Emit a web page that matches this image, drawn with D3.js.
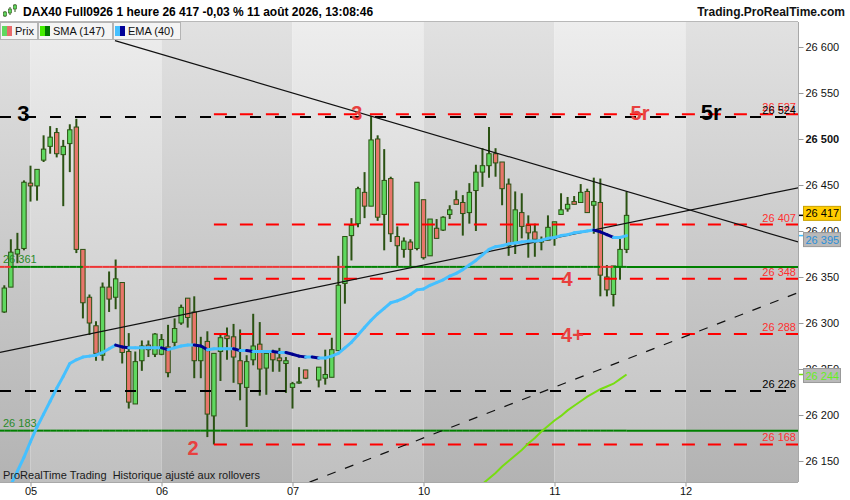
<!DOCTYPE html>
<html>
<head>
<meta charset="utf-8">
<script src="https://cdn.jsdelivr.net/npm/d3@7"></script>
<style>
  body { margin: 0; background: #fff; }
  svg { display: block; font-family: "Liberation Sans", Arial, sans-serif; }
</style>
</head>
<body>
<div id="chart"></div>
<script>
// Hourly candles, one per slot on the x axis (slot 47 has no candle)
const opens  = [26312,26339,26375,26381,26452,26449,26477,26492,26507,26483,
                26495,26513,26380,26328,26297,26265,26339,26328,26344,26269,
                26212,26259,26276,26266,26266,26274,26279,26300,26327,26312,
                26259,26280,26199,26269,26286,26285,26259,26230,26260,26277,
                26251,26269,26262,26256,26230,26235,26249,null,26238,26240,
                26241,26270,26343,26395,26408,26442,26427,26500,26418,26457,
                26394,26380,26388,26381,26434,26373,26403,26401,26418,26434,
                26431,26420,26444,26464,26471,26484,26475,26451,26387,26420,
                26406,26399,26388,26390,26392,26418,26424,26432,26431,26443,
                26428,26431,26350,26331,26361,26380];
const highs  = [26341,26391,26398,26455,26471,26467,26504,26514,26512,26499,
                26516,26522,26380,26331,26302,26344,26356,26369,26344,26289,
                26269,26281,26281,26289,26288,26298,26305,26320,26327,26329,
                26285,26291,26267,26289,26295,26299,26293,26265,26310,26301,
                26270,26271,26273,26263,26236,26252,26249,null,26252,26271,
                26284,26373,26394,26414,26448,26464,26525,26504,26489,26459,
                26405,26393,26391,26453,26434,26413,26413,26416,26428,26444,
                26439,26452,26472,26490,26513,26490,26475,26457,26443,26441,
                26417,26408,26394,26417,26410,26441,26437,26438,26451,26446,
                26458,26457,26363,26362,26392,26443];
const lows   = [26311,26339,26365,26379,26432,26433,26475,26484,26480,26427,
                26464,26376,26305,26287,26259,26259,26312,26315,26256,26207,
                26212,26248,26263,26263,26265,26241,26274,26298,26295,26240,
                26240,26176,26168,26237,26260,26235,26216,26187,26254,26221,
                26222,26247,26247,26224,26207,26234,26239,null,26230,26233,
                26241,26270,26321,26368,26404,26414,26427,26411,26379,26388,
                26362,26371,26361,26379,26369,26373,26392,26400,26413,26429,
                26395,26408,26400,26448,26458,26459,26428,26373,26375,26392,
                26371,26372,26379,26390,26384,26418,26421,26429,26431,26420,
                26397,26329,26329,26318,26347,26376];
const closes = [26338,26377,26380,26453,26449,26467,26489,26502,26484,26492,
                26510,26380,26322,26300,26267,26339,26326,26348,26268,26214,
                26258,26275,26271,26288,26282,26246,26294,26317,26306,26259,
                26275,26201,26267,26284,26283,26263,26234,26258,26275,26250,
                26267,26260,26259,26259,26234,26236,26240,null,26252,26244,
                26271,26341,26394,26406,26446,26427,26499,26415,26455,26397,
                26384,26389,26380,26453,26371,26413,26392,26415,26423,26429,
                26419,26442,26464,26471,26484,26474,26446,26384,26423,26405,
                26398,26391,26390,26404,26410,26423,26429,26429,26442,26420,
                26432,26352,26336,26362,26380,26417];

// EMA (40) and SMA (147) as drawn on the chart
const ema40 = [26109,26124,26139,26154,26171,26187,26201,26215,26229,26242,
               26256,26260,26263,26264,26265,26268,26272,26276,26274,26273,
               26273,26273,26273,26273,26273,26271,26273,26275,26276,26276,
               26275,26271,26272,26272,26272,26272,26270,26270,26269,26269,
               26269,26269,26268,26268,26266,26264,26263,26263,26262,26262,
               26264,26267,26273,26279,26287,26295,26303,26310,26316,26322,
               26324,26327,26331,26336,26337,26341,26344,26347,26351,26354,
               26358,26363,26368,26374,26380,26383,26384,26386,26387,26388,
               26389,26389,26390,26392,26393,26395,26396,26398,26399,26400,
               26401,26399,26396,26393,26393,26395];
const sma147 = Array(73).fill(null).concat(
              [26125,26131,26137,26144,26150,26156,26162,26169,26175,26182,
               26188,26194,26199,26205,26210,26215,26220,26224,26228,26231,
               26234,26239,26244]);

// Axes
const dayTicks = [4, 24, 44, 64, 84, 104];
const dayLabels = ["05", "06", "07", "10", "11", "12"];
const priceTicks = [26150, 26200, 26250, 26300, 26350, 26400, 26450, 26500, 26550, 26600];

// Horizontal levels
const redDashLevels = [26527, 26407, 26348, 26288, 26168];
const blackDashLevels = [26524, 26226];
const supportLevels = [26361, 26183];
const redDashStartSlot = 32;

// Trend lines: [slot, price] -> [slot, price]
const trendSolid = [[[16.9, 26607], [121.2, 26388]], [[-0.66, 26268], [121.2, 26447]]];
const trendDashed = [[[46.6, 26127], [121.2, 26333]]];

// Wave count annotations: text, slot, price
const waveBlack = [["3", 2.93, 26519.6], ["5r", 107.9, 26520.6]];
const waveRed = [["3", 53.8, 26520.6], ["5r", 97.05, 26520.6], ["2", 28.8, 26156.5],
                 ["4", 85.9, 26340.2], ["4+", 86.75, 26279.3]];

const lastPrice = 26417;
const lastEma = 26395;
const lastSma = 26244;

// ---------------------------------------------------------------
const width = 850, height = 500;
const plotL = 0, plotR = 798, plotT = 22, plotB = 482;

const fr = d3.formatLocale({ decimal: ",", thousands: " ", grouping: [3], currency: ["", ""] });
const fmt = fr.format(",d");

const x = d3.scaleLinear().domain([0, 95]).range([4.3, 626.55]);
const y = d3.scaleLinear().domain([26150, 26600]).range([461, 47]);
const slotMax = x.invert(plotR), slotMin = x.invert(plotL);

const svg = d3.select("#chart").append("svg")
    .attr("width", width).attr("height", height);

const defs = svg.append("defs");
function grad(id, top, bottom) {
    const g = defs.append("linearGradient").attr("id", id)
        .attr("gradientUnits", "userSpaceOnUse")
        .attr("x1", 0).attr("x2", 0).attr("y1", plotT).attr("y2", plotB);
    g.append("stop").attr("offset", 0).attr("stop-color", top);
    g.append("stop").attr("offset", 1).attr("stop-color", bottom);
}
grad("bandDark", "#e1e1e1", "#b3b3b3");
grad("bandLight", "#ededed", "#c0c0c0");
defs.append("clipPath").attr("id", "plotClip")
    .append("rect").attr("x", plotL).attr("y", plotT)
    .attr("width", plotR - plotL).attr("height", plotB - plotT);

svg.append("rect").attr("width", width).attr("height", height).attr("fill", "#fff");

// Day bands (alternate shading)
const edges = [slotMin, ...dayTicks, slotMax];
svg.append("g").selectAll("rect")
    .data(d3.pairs(edges))
    .join("rect")
    .attr("x", d => x(d[0]))
    .attr("y", plotT)
    .attr("width", d => x(d[1]) - x(d[0]))
    .attr("height", plotB - plotT)
    .attr("fill", (d, i) => i % 2 === 0 ? "url(#bandDark)" : "url(#bandLight)");

const plot = svg.append("g").attr("clip-path", "url(#plotClip)");

// Candles
const candles = opens.map((o, i) => ({ i, o, h: highs[i], l: lows[i], c: closes[i] }))
    .filter(d => d.o != null);

plot.append("g").selectAll("line")
    .data(candles)
    .join("line")
    .attr("x1", d => x(d.i)).attr("x2", d => x(d.i))
    .attr("y1", d => y(d.h)).attr("y2", d => y(d.l))
    .attr("stroke", "#2b5213")
    .attr("stroke-width", 2);

plot.append("g").selectAll("rect")
    .data(candles)
    .join("rect")
    .attr("x", d => x(d.i) - 2.2)
    .attr("y", d => y(Math.max(d.o, d.c)))
    .attr("width", 4.4)
    .attr("height", d => Math.max(1.2, Math.abs(y(d.o) - y(d.c))))
    .attr("fill", d => d.c >= d.o ? "#5fd85f" : "#e8766b")
    .attr("stroke", "#2b5213")
    .attr("stroke-width", 1);

// Support lines: green while closes hold above, red while below
supportLevels.forEach(level => {
    const pts = [[slotMin, closes[0]]];
    let last = closes[0];
    closes.forEach((c, i) => { if (c != null) last = c; pts.push([i, last]); });
    pts.push([slotMax, last]);
    plot.append("g").selectAll("line")
        .data(d3.pairs(pts))
        .join("line")
        .attr("x1", d => x(d[0][0])).attr("x2", d => x(d[1][0]))
        .attr("y1", y(level)).attr("y2", y(level))
        .attr("stroke", d => d[0][1] >= level ? "#008000" : "#ee3535")
        .attr("stroke-width", 2);
});

// Dashed levels
plot.append("g").selectAll("line")
    .data(blackDashLevels)
    .join("line")
    .attr("x1", plotL).attr("x2", plotR)
    .attr("y1", d => y(d)).attr("y2", d => y(d))
    .attr("stroke", "#000")
    .attr("stroke-width", 2)
    .attr("stroke-dasharray", "11,14");

plot.append("g").selectAll("line")
    .data(redDashLevels)
    .join("line")
    .attr("x1", x(redDashStartSlot)).attr("x2", plotR)
    .attr("y1", d => y(d)).attr("y2", d => y(d))
    .attr("stroke", "#ff0000")
    .attr("stroke-width", 2)
    .attr("stroke-dasharray", "13,13");

// Trend lines
const trendLine = d3.line().x(d => x(d[0])).y(d => y(d[1]));
plot.append("g").selectAll("path")
    .data(trendSolid)
    .join("path")
    .attr("d", trendLine)
    .attr("fill", "none").attr("stroke", "#111").attr("stroke-width", 1.2);
plot.append("g").selectAll("path")
    .data(trendDashed)
    .join("path")
    .attr("d", trendLine)
    .attr("fill", "none").attr("stroke", "#111").attr("stroke-width", 1.2)
    .attr("stroke-dasharray", "9,10");

// SMA 147
plot.append("path")
    .datum(sma147.map((v, i) => [i, v]).filter(d => d[1] != null))
    .attr("d", trendLine)
    .attr("fill", "none").attr("stroke", "#77dd11").attr("stroke-width", 2);

// EMA 40: light blue rising, dark blue falling
plot.append("g").selectAll("line")
    .data(d3.pairs(ema40.map((v, i) => [i, v])))
    .join("line")
    .attr("x1", d => x(d[0][0])).attr("x2", d => x(d[1][0]))
    .attr("y1", d => y(d[0][1])).attr("y2", d => y(d[1][1]))
    .attr("stroke", d => d[1][1] < d[0][1] ? "#00008f" : "#45c0ff")
    .attr("stroke-width", 3)
    .attr("stroke-linecap", "round");

// Wave labels
plot.append("g").selectAll("text")
    .data(waveBlack)
    .join("text")
    .attr("x", d => x(d[1])).attr("y", d => y(d[2]))
    .attr("text-anchor", "middle")
    .attr("font-size", "22px").attr("font-weight", "bold")
    .attr("fill", "#000")
    .text(d => d[0]);
plot.append("g").selectAll("text")
    .data(waveRed)
    .join("text")
    .attr("x", d => x(d[1])).attr("y", d => y(d[2]))
    .attr("text-anchor", "middle")
    .attr("font-size", "20px").attr("font-weight", "bold")
    .attr("fill", "#e8403f")
    .text(d => d[0]);

// Level value labels inside the plot
const rightLabels = redDashLevels.map(v => [v, "#ff3030"]).concat(blackDashLevels.map(v => [v, "#000"]));
plot.append("g").selectAll("text")
    .data(rightLabels)
    .join("text")
    .attr("x", plotR - 2).attr("y", d => y(d[0]) - 3)
    .attr("text-anchor", "end")
    .attr("font-size", "11px")
    .attr("fill", d => d[1])
    .text(d => fmt(d[0]));
plot.append("g").selectAll("text")
    .data(supportLevels)
    .join("text")
    .attr("x", 3).attr("y", d => y(d) - 4)
    .attr("font-size", "11px")
    .attr("fill", "#2a8a2a")
    .text(d => fmt(d));

plot.append("text")
    .attr("x", 3).attr("y", plotB - 3)
    .attr("font-size", "11px").attr("fill", "#1a1a1a")
    .style("white-space", "pre")
    .text("ProRealTime Trading  Historique ajusté aux rollovers");

// Frame
svg.append("line").attr("x1", plotR + 0.5).attr("x2", plotR + 0.5)
    .attr("y1", plotT).attr("y2", plotB).attr("stroke", "#a8a8a8");
svg.append("line").attr("x1", plotL).attr("x2", plotR)
    .attr("y1", plotB + 0.5).attr("y2", plotB + 0.5).attr("stroke", "#a8a8a8");
svg.append("line").attr("x1", plotL).attr("x2", plotR)
    .attr("y1", plotT - 0.5).attr("y2", plotT - 0.5).attr("stroke", "#b8b8b8");

// Right price axis
const yAxis = d3.axisRight(y).tickValues(priceTicks).tickFormat(fmt).tickSize(5).tickPadding(2);
const ya = svg.append("g").attr("transform", `translate(${plotR + 0.5},0)`).call(yAxis);
ya.select(".domain").remove();
ya.selectAll(".tick line").attr("stroke", "#999");
ya.selectAll(".tick text")
    .attr("font-size", "11px").attr("fill", "#111")
    .attr("font-family", "Liberation Sans, Arial, sans-serif")
    .attr("font-weight", d => d === 26500 ? "bold" : "normal");

// Bottom day axis
const xAxis = d3.axisBottom(x).tickValues(dayTicks)
    .tickFormat((d, i) => dayLabels[i]).tickSize(4).tickPadding(1);
const xa = svg.append("g").attr("transform", `translate(0,${plotB + 0.5})`).call(xAxis);
xa.select(".domain").remove();
xa.selectAll(".tick line").attr("stroke", "#999");
xa.selectAll(".tick text")
    .attr("font-size", "11px").attr("fill", "#111")
    .attr("font-family", "Liberation Sans, Arial, sans-serif");

// Price tags on the axis
const tags = [
    { v: lastEma, dy: 4, fill: "#b9b9b9", stroke: "#999", text: "#2a8fd8", tick: "#45c0ff" },
    { v: lastSma, dy: 1, fill: "#b9b9b9", stroke: "#999", text: "#66ee22", tick: "#77dd11" },
    { v: lastPrice, dy: -2, fill: "#ffcc00", stroke: "#c9a000", text: "#000", tick: "#000" }
];
const tg = svg.append("g").selectAll("g").data(tags).join("g")
    .attr("transform", d => `translate(0,${y(d.v) + d.dy})`);
tg.append("line").attr("x1", plotR + 1).attr("x2", plotR + 5)
    .attr("y1", d => -d.dy).attr("y2", d => -d.dy)
    .attr("stroke", d => d.tick).attr("stroke-width", 1.5);
tg.append("rect").attr("x", 803.5).attr("y", -7).attr("width", 37).attr("height", 14)
    .attr("fill", d => d.fill).attr("stroke", d => d.stroke);
tg.append("text").attr("x", 805.5).attr("y", 4)
    .attr("font-size", "11px").attr("fill", d => d.text)
    .text(d => fmt(d.v));

// Header
svg.append("text").attr("x", 23).attr("y", 16)
    .attr("font-size", "12px").attr("font-weight", "bold").attr("fill", "#000")
    .text("DAX40 Full0926 1 heure 26 417 -0,03 % 11 août 2026, 13:08:46");
svg.append("text").attr("x", 845).attr("y", 16)
    .attr("text-anchor", "end")
    .attr("font-size", "12px").attr("font-weight", "bold").attr("fill", "#111")
    .text("Trading.ProRealTime.com");

// little candle icon
const icon = svg.append("g").attr("transform", "translate(3,3)");
[[2, 8, 14, 9, 13], [7, 4, 12, 6, 10], [12, 1, 9, 2, 6]].forEach(c => {
    icon.append("line").attr("x1", c[0]).attr("x2", c[0]).attr("y1", c[1]).attr("y2", c[2])
        .attr("stroke", "#2b5213");
    icon.append("rect").attr("x", c[0] - 1.5).attr("y", c[3]).attr("width", 3).attr("height", c[4] - c[3])
        .attr("fill", "#5fd85f").attr("stroke", "#2b5213").attr("stroke-width", 0.6);
});

// Legend boxes
const legendItems = [
    { label: "Prix", x0: 0, w: 37, c1: "#5fd85f", c2: "#e86a6a" },
    { label: "SMA (147)", x0: 38, w: 74, c1: "#44ee00", c2: "#007700" },
    { label: "EMA (40)", x0: 113, w: 67, c1: "#45c0ff", c2: "#000099" }
];
const lg = svg.append("g").selectAll("g").data(legendItems).join("g")
    .attr("transform", d => `translate(${d.x0},${plotT})`);
lg.append("rect").attr("x", 0.5).attr("y", 0.5).attr("width", d => d.w).attr("height", 17)
    .attr("fill", "#f4f4f4").attr("stroke", "#b4b4b4");
lg.append("rect").attr("x", 2).attr("y", 4).attr("width", 5).attr("height", 10).attr("fill", d => d.c1);
lg.append("rect").attr("x", 7).attr("y", 4).attr("width", 5).attr("height", 10).attr("fill", d => d.c2);
lg.append("text").attr("x", 15).attr("y", 13)
    .attr("font-size", "11px").attr("fill", "#111")
    .text(d => d.label);
</script>
</body>
</html>
